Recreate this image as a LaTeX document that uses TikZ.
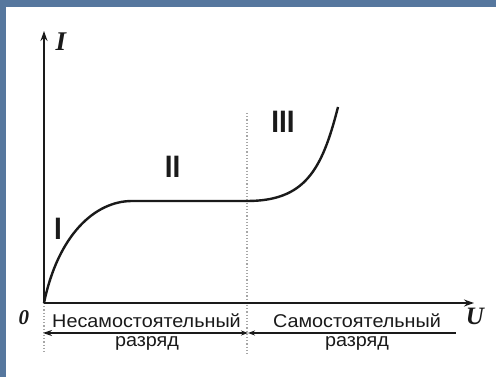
\documentclass[tikz,border=0pt]{standalone}
\usepackage{fontspec}
\setmainfont{Liberation Serif}
\setsansfont{Liberation Sans}
\usetikzlibrary{arrows.meta}
\definecolor{bgblue}{HTML}{56779E}
\definecolor{ink}{HTML}{1A1A1A}
\tikzset{
  axis/.style={line width=1.6pt, draw=ink, -{Stealth[length=10pt,width=7pt]}},
  curveline/.style={line width=2.4pt, draw=ink},
  guide/.style={line width=1.2pt, draw=gray!70, dotted},
  span/.style={line width=1.6pt, draw=ink},
  axlabel/.style={font=\bfseries\itshape, text=ink, inner sep=0pt},
  region/.style={font=\fontsize{31}{31}\selectfont\sffamily\bfseries, text=ink, inner sep=0pt},
  caption/.style={font=\fontsize{18.5}{20}\selectfont\sffamily, text=ink, inner sep=0pt}
}
\begin{document}
\begin{tikzpicture}[x=1pt,y=-1pt]
\useasboundingbox (0,0) rectangle (496,377);
\fill[bgblue] (0,0) rectangle (496,377);
\fill[white] (6,7.5) rectangle (496,377);
% coordinates
\coordinate (O) at (44,303);
\coordinate (ytop) at (44,31);
\coordinate (xend) at (474,303);
\coordinate (p1) at (132,201);
\coordinate (p2) at (247,201);
\coordinate (p3) at (338,107);
\coordinate (gtop) at (247,113);
\coordinate (gbot) at (247,354);
\coordinate (lbot) at (44,354);
\coordinate (aL) at (43,333);
\coordinate (aM) at (248,333);
\coordinate (aR) at (456,333);
% guides
\draw[guide] (gtop) -- (gbot);
\draw[guide] (O) -- (lbot);
% axes
\draw[axis] (O) -- (ytop);
\draw[axis] (O) -- (xend);
% curve
\draw[curveline] (O) .. controls (58,235) and (95,201) .. (p1) -- (p2)
  .. controls (305,201) and (322,170) .. (p3);
% spans
\draw[span, {Stealth[length=9pt,width=6pt]}-{Stealth[length=7pt,width=5pt]}] (aL) -- (aM);
\draw[span, {Stealth[length=7pt,width=5pt]}-] (aM) -- (aR);
% labels
\node[axlabel, font=\fontsize{27}{27}\selectfont\bfseries\itshape] (lI) at (61,42) {I};
\node[axlabel, font=\fontsize{25}{25}\selectfont\bfseries\itshape] (lU) at (475,316) {U};
\node[axlabel, font=\fontsize{21}{21}\selectfont\bfseries\itshape] (l0) at (24,318) {0};
\node[region] (r1) at (58,229) {\scalebox{0.9}[1]{I}};
\node[region] (r2) at (172.7,167) {\scalebox{0.9}[1]{II}};
\node[region] (r3) at (283,121.5) {\scalebox{0.9}[1]{III}};
\node[caption] (c1) at (146.5,321) {\scalebox{1.07}[1]{Несамостоятельный}};
\node[caption] (c2) at (147,343) {\scalebox{1.07}[1]{разряд}};
\node[caption] (c3) at (357,321) {\scalebox{1.07}[1]{Самостоятельный}};
\node[caption] (c4) at (357,343) {\scalebox{1.07}[1]{разряд}};
\end{tikzpicture}
\end{document}
